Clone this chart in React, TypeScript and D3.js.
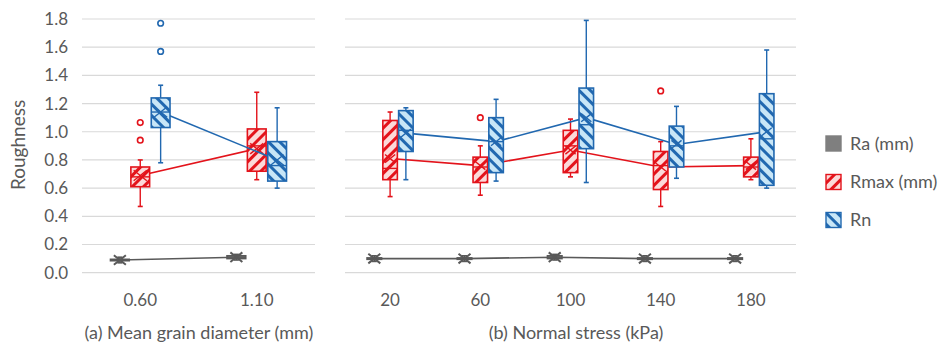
import React, { useEffect, useRef } from 'react';
import * as d3 from 'd3';

// categories of the two panels
const grainSizes = ['0.60', '1.10'];
const stresses = ['20', '60', '100', '140', '180'];
const seriesNames = ['Ra (mm)', 'Rmax (mm)', 'Rn'];
const yTicks = [0, 0.2, 0.4, 0.6, 0.8, 1.0, 1.2, 1.4, 1.6, 1.8];

// box stats per category: [min, q1, median, q3, max]
const raGrain = [[0.07, 0.085, 0.09, 0.095, 0.11], [0.09, 0.1, 0.11, 0.12, 0.13]];
const raStress = [
  [0.08, 0.095, 0.1, 0.105, 0.12],
  [0.08, 0.095, 0.1, 0.105, 0.12],
  [0.09, 0.1, 0.11, 0.12, 0.13],
  [0.08, 0.095, 0.1, 0.105, 0.12],
  [0.08, 0.095, 0.1, 0.105, 0.12],
];
const rmaxGrain = [[0.47, 0.61, 0.68, 0.75, 0.8], [0.66, 0.72, 0.9, 1.02, 1.28]];
const rmaxStress = [
  [0.54, 0.66, 0.74, 1.08, 1.14],
  [0.55, 0.64, 0.75, 0.82, 0.9],
  [0.68, 0.71, 0.9, 1.01, 1.09],
  [0.47, 0.59, 0.76, 0.86, 0.93],
  [0.66, 0.68, 0.75, 0.82, 0.95],
];
const rnGrain = [[0.78, 1.03, 1.14, 1.24, 1.33], [0.6, 0.65, 0.76, 0.93, 1.17]];
const rnStress = [
  [0.66, 0.86, 1.01, 1.15, 1.17],
  [0.65, 0.71, 0.93, 1.1, 1.23],
  [0.64, 0.88, 1.05, 1.31, 1.79],
  [0.67, 0.75, 0.9, 1.04, 1.18],
  [0.6, 0.62, 0.95, 1.27, 1.58],
];

// means (the X markers, joined by lines)
const raMeanGrain = [0.09, 0.11];
const raMeanStress = [0.1, 0.1, 0.11, 0.1, 0.1];
const rmaxMeanGrain = [0.69, 0.88];
const rmaxMeanStress = [0.81, 0.76, 0.87, 0.75, 0.76];
const rnMeanGrain = [1.14, 0.8];
const rnMeanStress = [0.99, 0.93, 1.1, 0.91, 1.0];

// outliers
const rmaxOutGrain = [[1.065, 0.94], []];
const rmaxOutStress = [[], [1.1], [], [1.29], []];
const rnOutGrain = [[1.77, 1.57], []];
const rnOutStress = [[], [], [], [], []];

const RED = '#e3131b';
const BLUE = '#2168b0';
const GRAY = '#595959';

const App = () => {
  const ref = useRef<SVGSVGElement>(null);

  useEffect(() => {
    const svg = d3.select(ref.current);
    svg.selectAll('*').remove();

    const width = 939;
    const height = 345;
    svg.attr('width', width).attr('height', height);
    const font = 'Lato, "Open Sans", sans-serif';

    // patterns
    const defs = svg.append('defs');
    const addPattern = (id, bg, fg, angle) => {
      const p = defs
        .append('pattern')
        .attr('id', id)
        .attr('patternUnits', 'userSpaceOnUse')
        .attr('width', 8)
        .attr('height', 8)
        .attr('patternTransform', `rotate(${angle})`);
      p.append('rect').attr('width', 8).attr('height', 8).attr('fill', bg);
      p.append('rect').attr('width', 3).attr('height', 8).attr('fill', fg);
    };
    addPattern('pRmax', '#fcd9d9', RED, 45);
    addPattern('pRn', '#c8e6f7', BLUE, -45);

    const y = d3.scaleLinear().domain([0, 1.8]).range([272.7, 19]);

    const series = [
      { name: seriesNames[0], stroke: GRAY, fill: '#7f7f7f' },
      { name: seriesNames[1], stroke: RED, fill: 'url(#pRmax)' },
      { name: seriesNames[2], stroke: BLUE, fill: 'url(#pRn)' },
    ];

    const drawPanel = (cats, x0, x1, stats, means, outs) => {
      const g = svg.append('g');
      const x = d3.scaleBand().domain(cats).range([x0, x1]);
      const bw = x.bandwidth();
      const inner = d3
        .scaleBand()
        .domain(seriesNames)
        .range([bw * (0.5 - 1.5 * 0.175), bw * (0.5 + 1.5 * 0.175)]);
      const boxW = inner.bandwidth() * 0.92;

      // gridlines
      g.selectAll('line.grid')
        .data(yTicks)
        .enter()
        .append('line')
        .attr('x1', x0)
        .attr('x2', x1)
        .attr('y1', (d) => y(d))
        .attr('y2', (d) => y(d))
        .attr('stroke', '#d9d9d9')
        .attr('stroke-width', 1.2);

      // x tick labels
      g.selectAll('text.xt')
        .data(cats)
        .enter()
        .append('text')
        .attr('x', (d) => x(d) + bw / 2)
        .attr('y', 306)
        .attr('text-anchor', 'middle')
        .attr('font-family', font)
        .attr('font-size', 17)
        .attr('fill', GRAY)
        .text((d) => d);

      series.forEach((s, si) => {
        const cx = (i) => x(cats[i]) + inner(s.name) + inner.bandwidth() / 2;
        const sg = g.append('g');
        const st = stats[si];

        // mean line
        const line = d3
          .line<number>()
          .x((d, i) => cx(i))
          .y((d) => y(d));
        sg.append('path')
          .attr('d', line(means[si]))
          .attr('fill', 'none')
          .attr('stroke', s.stroke)
          .attr('stroke-width', 1.6);

        st.forEach((d, i) => {
          const c = cx(i);
          const [mn, q1, md, q3, mx] = d;
          // whiskers
          sg.append('line')
            .attr('x1', c).attr('x2', c)
            .attr('y1', y(mx)).attr('y2', y(q3))
            .attr('stroke', s.stroke).attr('stroke-width', 1.4);
          sg.append('line')
            .attr('x1', c).attr('x2', c)
            .attr('y1', y(q1)).attr('y2', y(mn))
            .attr('stroke', s.stroke).attr('stroke-width', 1.4);
          [mn, mx].forEach((v) =>
            sg.append('line')
              .attr('x1', c - 2.5).attr('x2', c + 2.5)
              .attr('y1', y(v)).attr('y2', y(v))
              .attr('stroke', s.stroke).attr('stroke-width', 1.6)
          );
          // box
          sg.append('rect')
            .attr('x', c - boxW / 2)
            .attr('y', y(q3))
            .attr('width', boxW)
            .attr('height', y(q1) - y(q3))
            .attr('fill', s.fill)
            .attr('stroke', s.stroke)
            .attr('stroke-width', 1.6);
          // median
          sg.append('line')
            .attr('x1', c - boxW / 2).attr('x2', c + boxW / 2)
            .attr('y1', y(md)).attr('y2', y(md))
            .attr('stroke', s.stroke).attr('stroke-width', 1.4);
          // mean X
          const m = y(means[si][i]);
          const r = si === 0 ? 6 : boxW * 0.35;
          sg.append('path')
            .attr('d', `M${c - r},${m - r * 0.8}L${c + r},${m + r * 0.8}M${c - r},${m + r * 0.8}L${c + r},${m - r * 0.8}`)
            .attr('stroke', s.stroke)
            .attr('stroke-width', si === 0 ? 2 : 1.4)
            .attr('fill', 'none');
          // outliers
          if (outs[si]) {
            sg.selectAll(null)
              .data(outs[si][i])
              .enter()
              .append('circle')
              .attr('cx', c)
              .attr('cy', (v) => y(v))
              .attr('r', 2.8)
              .attr('fill', 'white')
              .attr('stroke', s.stroke)
              .attr('stroke-width', 1.6);
          }
        });
      });
    };

    drawPanel(
      grainSizes, 82, 315,
      [raGrain, rmaxGrain, rnGrain],
      [raMeanGrain, rmaxMeanGrain, rnMeanGrain],
      [null, rmaxOutGrain, rnOutGrain]
    );
    drawPanel(
      stresses, 345, 796,
      [raStress, rmaxStress, rnStress],
      [raMeanStress, rmaxMeanStress, rnMeanStress],
      [null, rmaxOutStress, rnOutStress]
    );

    // y axis labels
    svg.append('g')
      .selectAll('text')
      .data(yTicks)
      .enter()
      .append('text')
      .attr('x', 68)
      .attr('y', (d) => y(d))
      .attr('dy', '0.35em')
      .attr('text-anchor', 'end')
      .attr('font-family', font)
      .attr('font-size', 17)
      .attr('fill', GRAY)
      .text((d) => d3.format('.1f')(d));

    svg.append('text')
      .attr('transform', 'translate(25,145) rotate(-90)')
      .attr('text-anchor', 'middle')
      .attr('font-family', font)
      .attr('font-size', 19)
      .attr('fill', GRAY)
      .text('Roughness');

    // panel titles
    svg.append('text')
      .attr('x', 199).attr('y', 339)
      .attr('text-anchor', 'middle')
      .attr('font-family', font).attr('font-size', 18).attr('fill', GRAY)
      .text('(a) Mean grain diameter (mm)');
    svg.append('text')
      .attr('x', 576).attr('y', 339)
      .attr('text-anchor', 'middle')
      .attr('font-family', font).attr('font-size', 18).attr('fill', GRAY)
      .text('(b) Normal stress (kPa)');

    // legend
    const legend = svg.append('g').attr('transform', 'translate(826,0)');
    const legY = [143.5, 182, 220];
    series.forEach((s, i) => {
      legend.append('rect')
        .attr('x', 0).attr('y', legY[i] - 7.5)
        .attr('width', 15).attr('height', 15)
        .attr('fill', s.fill)
        .attr('stroke', i === 0 ? '#7f7f7f' : s.stroke)
        .attr('stroke-width', 1.4);
      legend.append('text')
        .attr('x', 24).attr('y', legY[i])
        .attr('dy', '0.35em')
        .attr('font-family', font).attr('font-size', 18).attr('fill', GRAY)
        .text(s.name);
    });
  }, []);

  return <svg ref={ref} style={{ position: 'absolute', left: 0, top: 0 }} />;
};

export default App;
